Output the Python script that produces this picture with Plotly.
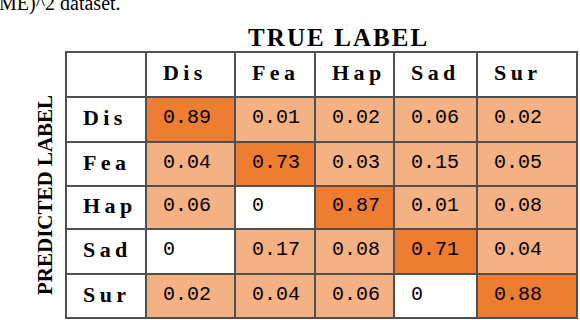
import plotly.graph_objects as go

classes = ["Dis", "Fea", "Hap", "Sad", "Sur"]
# rows = predicted label, columns = true label
values = [
    [0.89, 0.01, 0.02, 0.06, 0.02],
    [0.04, 0.73, 0.03, 0.15, 0.05],
    [0.06, 0.00, 0.87, 0.01, 0.08],
    [0.00, 0.17, 0.08, 0.71, 0.04],
    [0.02, 0.04, 0.06, 0.00, 0.88],
]
caption = "ME)^2 dataset."
x_title = "TRUE LABEL"
y_title = "PREDICTED LABEL"

# ---- layout / style constants ----
W, H = 580, 320
col_edges = [0, 80, 169, 249, 328, 411, 511]   # label column + 5 class columns (px)
row_edges = [0, 45, 90, 134, 177, 222, 266]    # header row + 5 class rows (px)
PAD = 15
WHITE, LIGHT, DARK = "#FFFFFF", "#F4B183", "#ED7D31"
GRID = "#505050"
SERIF = "Liberation Serif"
MONO = "Liberation Mono"


def fmt(v):
    return "0" if v == 0 else f"{v:.2f}"


def level(v):
    if v == 0:
        return 0
    return 2 if v >= 0.5 else 1


def spaced(s, sep="\u2009"):
    return sep.join(list(s))


n = len(classes)
z = [[0] * (n + 1)]
for r in range(n):
    z.append([0] + [level(values[r][c]) for c in range(n)])

fig = go.Figure(go.Heatmap(
    x=col_edges, y=row_edges, z=z,
    colorscale=[[0, WHITE], [0.5, LIGHT], [1, DARK]],
    zmin=0, zmax=2, showscale=False, xgap=2, ygap=2, hoverinfo="skip",
))


def cx(c):
    return col_edges[c] + PAD


def cy(r):
    return (row_edges[r] + row_edges[r + 1]) / 2


# header row (true labels)
for c, name in enumerate(classes):
    fig.add_annotation(x=cx(c + 1), y=cy(0), text="<b>" + spaced(name) + "</b>",
                       xref="x", yref="y", xanchor="left", yanchor="middle", showarrow=False,
                       yshift=2, font=dict(family=SERIF, size=22, color="black"))
# row labels (predicted)
for r, name in enumerate(classes):
    fig.add_annotation(x=cx(0), y=cy(r + 1), text="<b>" + spaced(name) + "</b>",
                       xref="x", yref="y", xanchor="left", yanchor="middle", showarrow=False,
                       yshift=2, font=dict(family=SERIF, size=22, color="black"))
# values
for r in range(n):
    for c in range(n):
        fig.add_annotation(x=cx(c + 1), y=cy(r + 1), text=fmt(values[r][c]),
                           xref="x", yref="y", xanchor="left", yanchor="middle", showarrow=False,
                           yshift=2, font=dict(family=MONO, size=20, color="black"))

fig.add_annotation(text=caption, xref="paper", yref="paper", x=0, y=1, xanchor="left",
                   yanchor="middle", yshift=48, xshift=-68, showarrow=False,
                   font=dict(family=SERIF, size=20, color="black"))
fig.add_annotation(text="<b>" + spaced(x_title, "\u200a") + "</b>", xref="paper", yref="paper",
                   x=0.5, y=1, xanchor="center", yanchor="middle", yshift=14, xshift=16,
                   showarrow=False, font=dict(family=SERIF, size=25, color="black"))
fig.add_annotation(text="<b>" + y_title + "</b>", xref="paper", yref="paper",
                   x=0, y=0.5, xanchor="center", yanchor="middle", xshift=-20, yshift=-10,
                   showarrow=False, textangle=-90,
                   font=dict(family=SERIF, size=21, color="black"))

fig.update_xaxes(range=[-1, col_edges[-1] + 1], visible=False, fixedrange=True)
fig.update_yaxes(range=[row_edges[-1] + 1, -1], visible=False, fixedrange=True)
fig.update_layout(width=W, height=H, margin=dict(l=65, r=2, t=51, b=1),
                  paper_bgcolor="white", plot_bgcolor=GRID, showlegend=False)
fig.write_html("out.html", config={"displayModeBar": False},
               post_script="document.body.style.margin='0';")
